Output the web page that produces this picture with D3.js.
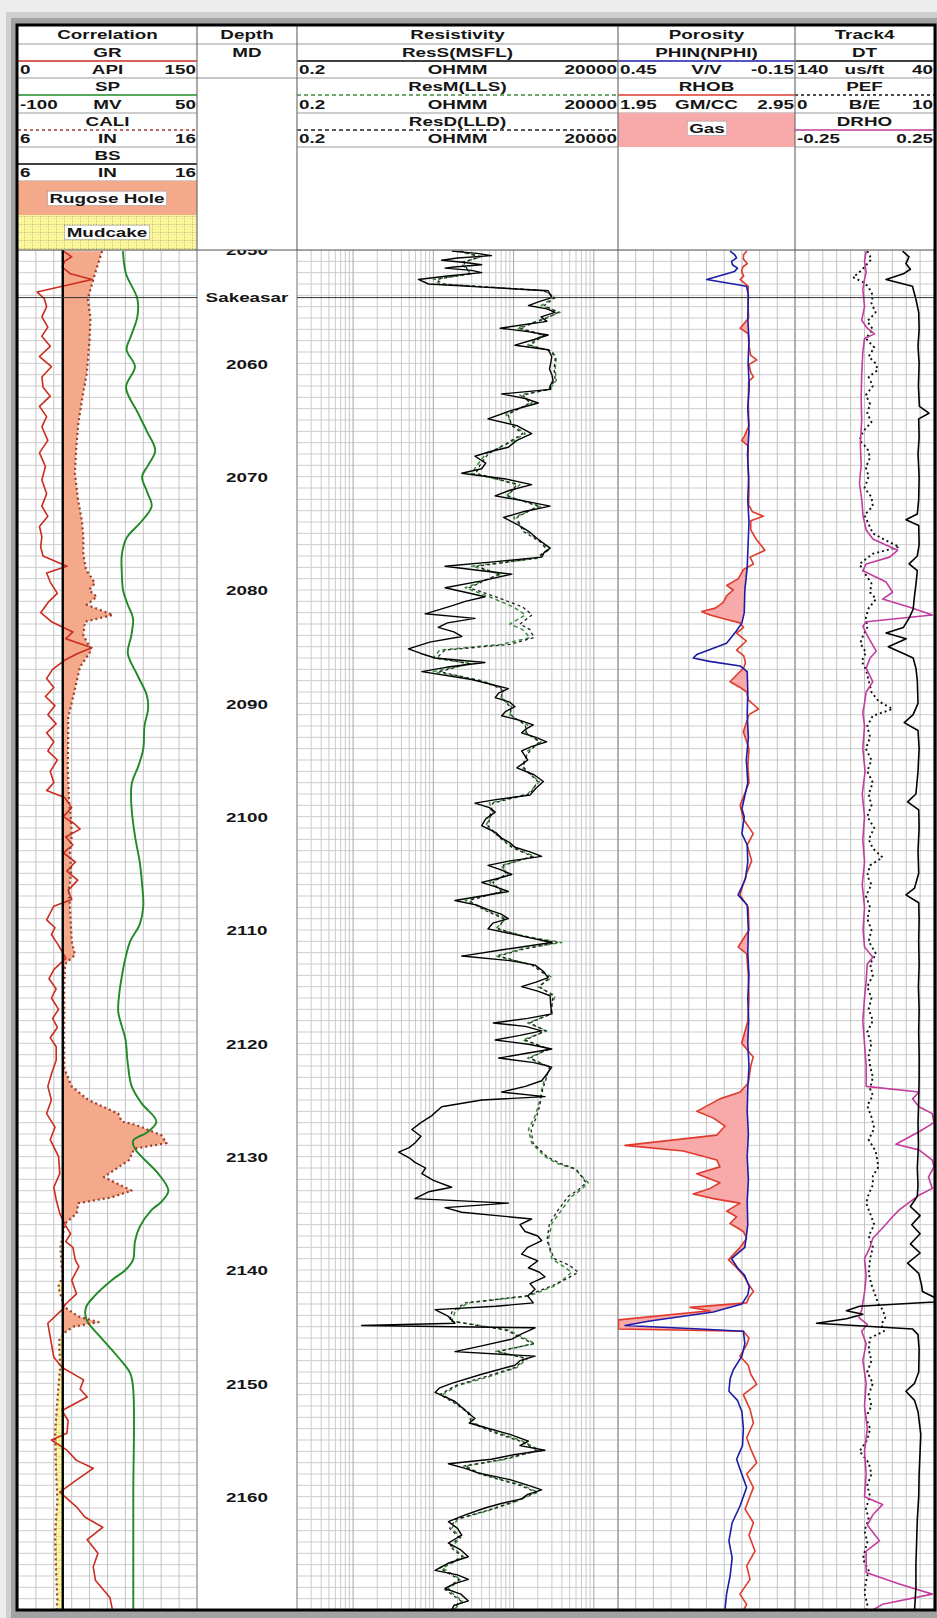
<!DOCTYPE html>
<html>
<head>
<meta charset="utf-8">
<title>Well log</title>
<script src="https://cdn.jsdelivr.net/npm/d3@7"></script>
<style>
  body { margin: 0; background: #ececec; }
  svg { display: block; }
  text { font-family: "Liberation Sans", Arial, sans-serif; font-weight: bold; font-size: 13px; fill: #151515; }
</style>
</head>
<body>
<script>
// ---------- données : [profondeur (m), valeur] ----------
const depthLabels = [2050, 2060, 2070, 2080, 2090, 2100, 2110, 2120, 2130, 2140, 2150, 2160];
const formationTops = [["Sakeasar", 2054.2]];
const bitSize = 8.5;

const trackTitles = ["Correlation", "Depth", "Resistivity", "Porosity", "Track4"];
const corrHeader = [["GR", "0", "API", "150"], ["SP", "-100", "MV", "50"], ["CALI", "6", "IN", "16"], ["BS", "6", "IN", "16"]];
const resHeader = [["ResS(MSFL)", "0.2", "OHMM", "20000"], ["ResM(LLS)", "0.2", "OHMM", "20000"], ["ResD(LLD)", "0.2", "OHMM", "20000"]];
const porHeader = [["PHIN(NPHI)", "0.45", "V/V", "-0.15"], ["RHOB", "1.95", "GM/CC", "2.95"]];
const t4Header = [["DT", "140", "us/ft", "40"], ["PEF", "0", "B/E", "10"], ["DRHO", "-0.25", "", "0.25"]];

const gr = [[2050.1,38],[2050.6,45],[2051.0,39],[2051.5,37],[2052.1,44],[2052.6,62],[2053.7,16],[2054.3,22],[2055.0,24],[2055.9,20],[2056.8,25],[2057.6,20],[2058.5,27],[2059.4,18],[2060.3,28],[2061.2,20],[2062.1,21],[2062.9,27],[2063.8,18],[2064.7,24],[2065.6,20],[2066.8,25],[2067.9,18],[2069.1,23],[2070.3,20],[2071.5,24],[2072.6,20],[2073.5,25],[2074.4,18],[2075.3,20],[2076.2,19],[2077.0,21],[2077.9,41],[2078.5,24],[2079.3,27],[2080.3,33],[2081.0,26],[2082.0,19],[2082.8,28],[2083.7,46],[2084.3,40],[2085.1,62],[2085.6,50],[2086.2,39],[2087.0,29],[2087.8,24],[2088.6,30],[2089.4,23],[2090.2,31],[2091.0,25],[2091.8,32],[2092.6,24],[2093.4,30],[2094.2,25],[2095.0,33],[2096.0,27],[2097.0,30],[2097.7,24],[2098.3,39],[2099.2,45],[2100.0,38],[2100.6,47],[2101.1,52],[2101.8,40],[2102.5,46],[2103.2,38],[2104.0,48],[2104.8,41],[2105.6,50],[2106.5,42],[2107.3,45],[2107.9,30],[2108.5,27],[2109.1,24],[2109.8,31],[2110.4,28],[2111.2,33],[2111.9,37],[2112.5,40],[2113.5,30],[2114.3,26],[2115.2,32],[2116.0,28],[2117.0,34],[2117.8,29],[2118.6,33],[2119.5,27],[2120.3,32],[2121.5,32],[2122.7,28],[2123.8,25],[2125.0,28],[2126.2,24],[2127.4,31],[2128.5,27],[2130.0,34],[2131.5,35],[2132.7,30],[2133.8,32],[2135.0,35],[2135.9,39],[2136.8,44],[2137.5,40],[2138.0,46],[2139.1,48],[2139.7,51],[2140.9,45],[2142.1,49],[2143.0,40],[2143.5,37],[2144.7,25],[2145.9,27],[2147.7,30],[2148.6,37],[2149.7,55],[2150.5,52],[2151.2,58],[2152.4,37],[2153.3,42],[2154.4,41],[2155.0,28],[2155.9,41],[2156.8,49],[2157.5,63],[2158.6,48],[2159.6,35],[2160.9,49],[2161.8,56],[2162.7,71],[2163.8,58],[2165.0,67],[2166.2,63],[2167.4,65],[2168.9,77],[2169.9,79]];

const sp = [[2050.1,-12],[2052.1,-9.5],[2054.3,0],[2055.9,0],[2057.5,-5],[2058.8,-9],[2060.3,-2],[2062.1,-9.5],[2064.4,0.6],[2066.0,8],[2067.7,15],[2069.0,9],[2070.0,4],[2071.3,8],[2072.6,12],[2074.0,3],[2075.4,-9],[2076.9,-13],[2078.5,-13],[2080.0,-12],[2081.3,-8],[2082.5,-3.6],[2084.0,-5],[2085.6,-8],[2087.5,0],[2089.3,8],[2090.5,9],[2092.0,6],[2094.0,5],[2095.5,1],[2097.1,-4.7],[2099.0,-5],[2101.7,-2],[2104.0,2],[2106.0,4],[2107.9,5],[2109.5,2],[2111.0,-6],[2112.5,-10],[2114.1,-13],[2115.5,-15],[2117.2,-16],[2118.5,-13],[2119.6,-10],[2121.8,-8],[2123.8,-4.7],[2125.3,3.6],[2126.9,16],[2127.8,9],[2128.6,-3.6],[2129.3,-2],[2130.0,3.6],[2131.5,17.5],[2133.0,26],[2134.0,20],[2134.7,12],[2136.2,2],[2137.5,-2],[2139.1,-3.6],[2140.0,-10],[2140.9,-21.5],[2142.2,-35],[2143.3,-43],[2144.4,-42.5],[2145.9,-31],[2147.7,-16],[2149.1,-6],[2150.6,-3.4],[2160.0,-3.4],[2170.0,-3.4]];

const cali = [[2050.1,10.7],[2052.1,10.3],[2054.3,9.9],[2056.0,10.05],[2057.9,10.0],[2060.9,9.84],[2063.0,9.6],[2065.3,9.37],[2067.5,9.25],[2069.7,9.18],[2072.0,9.35],[2073.8,9.56],[2075.3,9.65],[2076.9,9.65],[2078.2,9.8],[2079.4,10.3],[2080.0,9.97],[2080.6,10.4],[2081.3,9.84],[2082.2,11.3],[2082.8,9.74],[2084.0,9.65],[2085.3,10.1],[2086.8,9.46],[2089.3,9.1],[2091.2,8.81],[2093.5,8.8],[2095.5,8.78],[2098.6,8.85],[2100.0,8.95],[2101.7,9.0],[2103.0,8.9],[2104.8,8.97],[2106.5,8.85],[2107.9,8.9],[2109.5,8.95],[2111.0,9.0],[2112.2,9.18],[2113.0,8.63],[2115.0,8.58],[2117.2,8.59],[2119.5,8.57],[2122.1,8.59],[2122.4,8.63],[2123.8,9.0],[2125.0,9.93],[2126.2,11.6],[2126.9,11.8],[2127.2,12.6],[2128.1,14.0],[2128.8,14.3],[2129.3,12.5],[2130.3,12.2],[2131.8,10.8],[2133.0,12.35],[2133.6,11.2],[2134.1,9.37],[2135.0,9.28],[2135.9,8.63],[2136.5,8.55],[2138.0,8.37],[2139.7,8.44],[2140.5,8.5],[2141.5,8.25],[2143.0,8.53],[2143.3,8.63],[2144.1,9.37],[2144.6,10.5],[2145.0,9.1],[2145.5,8.63],[2146.2,8.3],[2148.6,8.35],[2151.5,8.2],[2154.4,8.07],[2157.4,8.12],[2160.3,8.2],[2163.3,8.07],[2166.2,8.12],[2169.1,8.2],[2170.0,8.15]];

const resS = [[2050.1,17],[2050.3,35],[2050.5,53],[2050.7,20],[2050.9,12.7],[2051.1,25],[2051.3,40],[2051.5,18],[2051.6,14],[2051.8,30],[2052.0,40],[2052.3,15],[2052.6,6.5],[2053.0,8.7],[2053.6,270],[2054.2,299],[2054.6,200],[2054.9,153],[2055.2,260],[2055.5,328],[2055.9,220],[2056.3,260],[2056.9,68],[2057.2,150],[2057.5,270],[2057.9,180],[2058.4,104],[2058.8,270],[2059.4,299],[2060.0,290],[2060.5,280],[2061.0,300],[2061.5,310],[2062.0,285],[2062.3,290],[2062.7,71],[2063.1,140],[2063.5,203],[2064.2,90],[2064.9,48],[2065.5,110],[2066.2,168],[2066.8,110],[2067.4,86],[2067.8,50],[2068.2,33],[2068.8,45],[2069.3,40],[2069.7,22.6],[2070.2,80],[2070.7,168],[2071.2,90],[2071.7,59],[2072.2,150],[2072.6,285],[2073.1,130],[2073.6,75],[2074.2,110],[2074.8,153],[2075.5,200],[2076.3,285],[2076.7,240],[2077.1,224],[2077.5,60],[2077.9,14],[2078.3,40],[2078.6,95],[2079.2,40],[2079.8,14],[2080.2,25],[2080.6,44],[2081.0,25],[2081.4,16.9],[2082.1,7.9],[2082.5,33],[2082.9,15],[2083.3,11.5],[2083.7,18],[2084.1,22.6],[2084.6,9],[2085.2,4.9],[2085.6,7],[2086.0,10.5],[2086.4,44],[2086.8,15],[2087.2,7.2],[2087.9,30],[2088.7,86],[2089.1,65],[2089.5,59],[2089.9,90],[2090.3,104],[2090.7,80],[2091.1,71],[2091.5,120],[2091.9,176],[2092.3,140],[2092.6,126],[2093.0,190],[2093.4,258],[2093.8,170],[2094.2,126],[2095.0,150],[2095.7,110],[2096.3,180],[2096.9,235],[2097.5,190],[2098.1,160],[2098.5,60],[2098.8,33],[2099.2,50],[2099.6,59],[2100.2,45],[2100.8,40],[2101.4,60],[2101.9,71],[2102.3,90],[2102.7,104],[2103.1,160],[2103.5,224],[2103.9,90],[2104.3,48],[2104.7,70],[2105.1,95],[2105.5,60],[2105.8,40],[2106.2,60],[2106.6,86],[2107.0,40],[2107.4,18.6],[2107.8,35],[2108.2,48],[2108.6,70],[2109.0,86],[2109.4,55],[2109.9,48],[2110.5,120],[2111.1,299],[2111.7,80],[2112.3,22.6],[2112.7,90],[2113.1,185],[2113.6,230],[2114.2,270],[2114.6,190],[2115.0,126],[2115.4,200],[2115.8,285],[2116.6,290],[2117.4,299],[2117.8,150],[2118.2,56],[2118.5,140],[2118.9,224],[2119.3,120],[2119.7,59],[2120.1,160],[2120.5,299],[2120.9,140],[2121.3,65],[2121.7,180],[2122.1,299],[2122.7,260],[2123.3,224],[2123.8,140],[2124.3,71],[2124.7,246],[2125.0,40],[2125.6,12.7],[2126.4,9.5],[2127.0,7],[2127.6,5.4],[2128.2,7],[2128.8,5.9],[2129.2,5],[2129.6,3.7],[2130.1,5],[2130.5,5.9],[2131.0,8],[2131.5,7.2],[2132.1,10],[2132.7,16.9],[2133.1,8.7],[2133.7,5.9],[2134.1,86],[2134.5,14],[2134.9,22.6],[2135.5,168],[2136.0,120],[2136.6,139],[2137.0,200],[2137.4,224],[2138.0,150],[2138.6,126],[2139.2,200],[2139.8,153],[2140.2,210],[2140.6,246],[2141.2,160],[2141.7,185],[2142.3,150],[2142.9,176],[2143.2,60],[2143.5,10.5],[2144.1,15.4],[2144.7,18.6],[2144.9,1.28],[2145.1,185],[2145.6,130],[2146.1,95],[2146.7,40],[2147.2,18.6],[2147.6,185],[2148.0,120],[2148.4,104],[2149.2,40],[2150.0,16.9],[2150.4,12],[2150.8,10.5],[2151.2,14],[2151.6,18.6],[2152.4,25],[2153.1,33],[2153.5,28],[2153.9,44],[2154.5,90],[2155.1,153],[2155.5,120],[2155.9,246],[2156.3,100],[2156.7,53],[2157.1,15.4],[2157.5,25],[2157.9,36],[2158.5,90],[2159.0,153],[2159.4,224],[2159.8,150],[2160.2,126],[2160.6,70],[2161.0,44],[2161.6,25],[2162.2,15.4],[2162.8,20],[2163.4,22.6],[2163.8,18],[2164.1,15.4],[2164.7,22],[2165.3,27.3],[2165.9,15],[2166.5,10.5],[2166.9,20],[2167.3,27.3],[2167.7,18],[2168.1,14],[2168.6,22],[2169.2,27.3],[2169.6,18],[2170.0,16.9]];

const resM = [[2050.1,20],[2050.6,40],[2051.1,22],[2051.6,25],[2052.1,30],[2052.6,10],[2053.0,12],[2053.6,250],[2054.2,320],[2054.9,220],[2055.5,380],[2056.0,250],[2056.9,110],[2057.5,230],[2058.4,150],[2058.9,300],[2059.5,340],[2060.5,330],[2061.5,340],[2062.3,280],[2062.8,120],[2063.5,170],[2064.5,80],[2065.5,100],[2066.2,140],[2067.0,90],[2068.0,45],[2069.0,35],[2069.7,30],[2070.7,120],[2071.7,80],[2072.6,220],[2073.6,100],[2074.8,140],[2075.8,230],[2076.5,270],[2077.2,200],[2077.9,30],[2078.6,70],[2079.8,25],[2080.6,50],[2081.5,100],[2082.2,140],[2083.0,90],[2083.5,130],[2084.2,160],[2084.8,70],[2085.3,12],[2086.0,10],[2086.5,30],[2087.2,10],[2088.0,40],[2088.7,75],[2089.5,70],[2090.3,95],[2091.1,90],[2091.9,150],[2092.6,140],[2093.4,220],[2094.2,150],[2095.0,140],[2095.7,130],[2096.9,210],[2098.0,150],[2098.8,50],[2099.6,55],[2100.8,45],[2101.9,70],[2102.7,100],[2103.5,180],[2104.3,70],[2105.1,85],[2105.8,50],[2106.6,75],[2107.4,25],[2108.2,45],[2109.0,80],[2109.9,60],[2110.6,150],[2111.1,397],[2111.7,120],[2112.3,60],[2113.1,180],[2114.2,300],[2115.0,200],[2115.8,330],[2116.6,300],[2117.4,300],[2118.2,150],[2118.9,260],[2119.7,130],[2120.5,280],[2121.3,150],[2122.1,290],[2123.3,240],[2124.1,224],[2125.6,203],[2126.6,180],[2127.6,153],[2128.8,168],[2130.0,246],[2130.6,350],[2131.1,582],[2132.3,853],[2132.9,700],[2133.5,530],[2134.7,397],[2135.9,299],[2137.4,270],[2139.0,299],[2139.6,400],[2140.2,530],[2140.8,420],[2141.4,328],[2142.3,153],[2142.9,27],[2143.7,18.6],[2144.5,17],[2145.3,86],[2146.5,185],[2147.2,60],[2147.8,150],[2148.6,110],[2149.4,50],[2150.2,20],[2151.0,13],[2151.8,20],[2152.6,28],[2153.5,32],[2154.3,60],[2155.1,130],[2155.9,210],[2156.7,80],[2157.3,25],[2158.0,40],[2159.0,130],[2159.6,200],[2160.4,110],[2161.2,50],[2162.0,20],[2162.8,17],[2163.6,22],[2164.4,17],[2165.3,24],[2166.3,13],[2167.3,22],[2168.2,15],[2169.2,23],[2170.0,18]];

const resD = [[2050.1,22],[2050.6,38],[2051.1,24],[2051.6,26],[2052.1,28],[2052.6,11],[2053.0,13],[2053.6,240],[2054.2,330],[2054.9,240],[2055.5,360],[2056.0,260],[2056.9,120],[2057.5,240],[2058.4,160],[2058.9,290],[2059.5,330],[2060.5,320],[2061.5,330],[2062.3,270],[2062.8,130],[2063.5,160],[2064.5,85],[2065.5,95],[2066.2,130],[2067.0,85],[2068.0,48],[2069.0,38],[2069.7,34],[2070.7,110],[2071.7,85],[2072.6,200],[2073.6,110],[2074.8,130],[2075.8,220],[2076.5,260],[2077.2,190],[2077.9,35],[2078.6,65],[2079.8,28],[2080.6,60],[2081.5,130],[2082.2,170],[2083.0,120],[2083.5,160],[2084.2,180],[2084.8,90],[2085.3,14],[2086.0,11],[2086.5,28],[2087.2,12],[2088.0,38],[2088.7,70],[2089.5,72],[2090.3,90],[2091.1,95],[2091.9,140],[2092.6,145],[2093.4,210],[2094.2,160],[2095.0,135],[2095.7,135],[2096.9,200],[2098.0,160],[2098.8,55],[2099.6,52],[2100.8,48],[2101.9,68],[2102.7,95],[2103.5,170],[2104.3,75],[2105.1,80],[2105.8,55],[2106.6,70],[2107.4,28],[2108.2,42],[2109.0,75],[2109.9,65],[2110.6,140],[2111.1,350],[2111.7,130],[2112.3,65],[2113.1,170],[2114.2,280],[2115.0,210],[2115.8,310],[2116.6,300],[2117.4,290],[2118.2,160],[2118.9,250],[2119.7,140],[2120.5,270],[2121.3,160],[2122.1,280],[2123.3,250],[2124.1,230],[2125.6,210],[2126.6,190],[2127.6,165],[2128.8,175],[2130.0,260],[2130.6,380],[2131.1,600],[2132.3,800],[2132.9,650],[2133.5,480],[2134.7,360],[2135.9,280],[2137.4,260],[2139.0,320],[2139.6,500],[2140.2,640],[2140.8,450],[2141.4,300],[2142.3,140],[2142.9,25],[2143.7,17],[2144.5,16],[2145.3,80],[2146.5,175],[2147.2,65],[2147.8,140],[2148.6,105],[2149.4,45],[2150.2,19],[2151.0,12],[2151.8,19],[2152.6,27],[2153.5,30],[2154.3,55],[2155.1,120],[2155.9,200],[2156.7,75],[2157.3,24],[2158.0,38],[2159.0,120],[2159.6,190],[2160.4,105],[2161.2,48],[2162.0,19],[2162.8,16],[2163.6,21],[2164.4,16],[2165.3,23],[2166.3,12],[2167.3,21],[2168.2,14],[2169.2,22],[2170.0,17]];

const nphi = [[2050.1,0.070],[2050.4,0.055],[2050.7,0.048],[2051.0,0.065],[2051.3,0.062],[2051.6,0.045],[2051.9,0.055],[2052.6,0.149],[2053.2,0.014],[2054.0,0.008],[2056.0,0.010],[2058.0,0.006],[2060.0,0.009],[2062.0,0.005],[2064.0,0.010],[2066.0,0.006],[2068.0,0.011],[2070.0,0.007],[2072.0,0.010],[2074.0,0.006],[2076.0,0.009],[2078.0,0.012],[2080.0,0.020],[2082.0,0.022],[2082.9,0.030],[2083.6,0.048],[2084.7,0.082],[2085.7,0.183],[2086.0,0.195],[2086.3,0.140],[2086.7,0.036],[2087.2,0.012],[2089.0,0.010],[2091.0,0.012],[2093.0,0.008],[2095.0,0.015],[2097.0,0.010],[2099.3,0.030],[2100.0,0.022],[2101.5,0.030],[2102.5,0.012],[2104.0,0.010],[2105.5,0.018],[2106.9,0.043],[2107.8,0.012],[2110.0,0.008],[2112.0,0.010],[2114.0,0.006],[2116.0,0.010],[2118.0,0.007],[2120.0,0.010],[2122.0,0.006],[2124.0,0.010],[2126.0,0.012],[2128.0,0.008],[2130.0,0.012],[2132.0,0.008],[2134.0,0.012],[2136.0,0.010],[2138.0,0.020],[2139.0,0.065],[2139.8,0.045],[2140.5,0.020],[2141.5,0.005],[2142.2,0.010],[2143.0,0.030],[2143.7,0.127],[2144.5,0.342],[2144.9,0.426],[2145.2,0.172],[2145.4,0.025],[2146.5,0.020],[2147.6,0.030],[2148.8,0.059],[2149.6,0.070],[2150.7,0.074],[2151.5,0.045],[2152.5,0.030],[2154.0,0.025],[2155.5,0.028],[2156.7,0.048],[2157.6,0.036],[2159.2,0.014],[2160.8,0.036],[2162.3,0.063],[2163.9,0.074],[2165.4,0.063],[2167.0,0.070],[2168.6,0.082],[2169.9,0.087]];

const rhob = [[2050.1,2.677],[2050.4,2.66],[2050.8,2.658],[2051.2,2.68],[2051.5,2.655],[2051.9,2.649],[2052.3,2.66],[2052.6,2.640],[2053.2,2.686],[2054.5,2.684],[2056.0,2.688],[2056.9,2.640],[2057.4,2.686],[2058.5,2.690],[2059.3,2.700],[2059.7,2.734],[2060.1,2.690],[2060.8,2.700],[2061.2,2.715],[2061.6,2.688],[2063.5,2.686],[2065.5,2.690],[2066.4,2.665],[2066.8,2.649],[2067.3,2.686],[2069.0,2.684],[2071.0,2.690],[2072.5,2.688],[2073.1,2.71],[2073.5,2.771],[2073.9,2.700],[2074.7,2.70],[2075.5,2.73],[2076.5,2.78],[2077.1,2.696],[2077.7,2.715],[2078.2,2.658],[2079.0,2.630],[2079.6,2.564],[2080.0,2.601],[2080.5,2.564],[2081.1,2.545],[2081.6,2.50],[2081.9,2.423],[2082.2,2.470],[2082.6,2.564],[2082.9,2.639],[2083.3,2.660],[2083.8,2.62],[2084.5,2.675],[2085.3,2.620],[2085.8,2.660],[2086.4,2.670],[2086.9,2.66],[2087.5,2.620],[2088.1,2.583],[2088.6,2.640],[2089.0,2.677],[2089.7,2.686],[2090.5,2.744],[2091.0,2.690],[2092.5,2.658],[2094.0,2.690],[2095.5,2.684],[2097.0,2.690],[2099.0,2.640],[2100.2,2.658],[2101.5,2.714],[2102.5,2.680],[2103.9,2.705],[2105.0,2.677],[2106.9,2.639],[2108.0,2.686],[2110.0,2.690],[2111.5,2.629],[2112.1,2.677],[2114.0,2.686],[2116.0,2.690],[2118.0,2.684],[2120.0,2.649],[2121.2,2.714],[2122.0,2.70],[2123.5,2.686],[2124.3,2.640],[2124.9,2.526],[2126.0,2.395],[2126.6,2.489],[2127.3,2.555],[2128.1,2.508],[2129.0,1.990],[2129.5,2.319],[2130.3,2.508],[2130.9,2.526],[2131.5,2.395],[2132.3,2.526],[2132.8,2.470],[2133.3,2.375],[2133.7,2.489],[2134.1,2.639],[2134.8,2.564],[2135.3,2.620],[2135.9,2.583],[2136.6,2.658],[2137.2,2.677],[2138.0,2.640],[2139.1,2.574],[2139.8,2.620],[2140.5,2.660],[2141.2,2.686],[2141.9,2.715],[2142.4,2.690],[2142.9,2.677],[2143.3,2.357],[2143.6,2.470],[2144.4,1.952],[2145.2,1.952],[2145.4,2.658],[2146.0,2.690],[2146.6,2.677],[2147.6,2.639],[2148.4,2.686],[2149.2,2.700],[2150.1,2.734],[2151.0,2.658],[2152.3,2.696],[2153.5,2.715],[2154.8,2.677],[2155.8,2.700],[2157.0,2.734],[2158.0,2.677],[2159.2,2.715],[2160.2,2.690],[2161.1,2.668],[2162.3,2.715],[2163.4,2.690],[2164.8,2.724],[2166.1,2.677],[2167.3,2.696],[2168.6,2.639],[2169.5,2.677],[2170.0,2.660]];

const dt = [[2050.1,62.6],[2050.6,58],[2051.2,60.2],[2051.7,57],[2052.1,62],[2052.6,74.5],[2053.2,55.5],[2054.3,53.1],[2055.5,51],[2057.0,50.7],[2058.5,51.5],[2060.0,50.7],[2062.0,51.2],[2063.8,50.5],[2064.4,43.6],[2064.9,51],[2066.5,50.7],[2068.0,51.5],[2070.0,50.7],[2072.0,51],[2073.3,52],[2073.8,60.2],[2074.3,51],[2076.0,50.7],[2077.0,52],[2077.7,57.9],[2078.3,52],[2079.5,53],[2080.5,54],[2081.7,55],[2082.5,58],[2083.3,62],[2083.8,74.5],[2084.3,60],[2085.0,72.9],[2085.6,62],[2086.0,55],[2086.9,53],[2088.0,52],[2090.0,51.5],[2091.0,55],[2091.7,61.4],[2092.4,51.5],[2094.0,50.7],[2096.0,51.5],[2098.0,53],[2098.7,59],[2099.4,51],[2101.0,50.7],[2103.0,51.5],[2105.0,51],[2106.3,54],[2106.9,60.2],[2107.6,51],[2109.0,50.7],[2111.0,51],[2113.0,50.7],[2115.0,51.2],[2117.0,50.7],[2119.0,51],[2121.0,50.7],[2123.0,50.7],[2125.0,51],[2127.0,51.5],[2129.0,51.2],[2131.0,52],[2132.5,51.5],[2133.5,52],[2134.4,57],[2135.2,50],[2136.0,56],[2136.8,50],[2137.7,57],[2138.5,50],[2139.4,59],[2140.3,51],[2141.3,49],[2141.9,48.3],[2142.4,40],[2142.8,36],[2143.2,93.6],[2143.6,103],[2143.9,91.2],[2144.3,103],[2144.7,124.5],[2145.2,55.5],[2145.7,51.5],[2147.0,50.7],[2149.0,51],[2150.0,54],[2150.7,60.2],[2151.5,54],[2152.5,51.5],[2154.5,49.5],[2156.0,50],[2158.0,50.7],[2160.0,51],[2162.0,52],[2164.0,52.5],[2166.0,53],[2168.0,53],[2170.0,54]];

const pef = [[2050.1,5.2],[2050.8,5.5],[2051.5,5.0],[2052.0,4.6],[2052.4,4.17],[2052.9,5.0],[2053.3,5.3],[2054.0,5.6],[2054.7,5.5],[2055.5,5.8],[2056.3,5.2],[2057.0,5.6],[2057.8,5.1],[2058.6,5.7],[2059.4,5.3],[2060.0,5.8],[2060.6,5.95],[2061.2,5.3],[2062.0,5.6],[2062.8,5.1],[2063.6,5.4],[2064.4,5.2],[2065.2,5.5],[2066.0,4.9],[2066.8,4.64],[2067.5,5.2],[2068.3,5.4],[2069.2,5.1],[2070.0,5.3],[2071.0,5.0],[2071.8,5.5],[2072.6,5.6],[2073.4,5.0],[2074.2,5.3],[2075.0,5.6],[2075.6,6.5],[2076.2,7.5],[2076.8,5.6],[2077.7,4.64],[2078.5,5.0],[2079.4,5.5],[2080.2,5.4],[2080.8,5.83],[2081.6,5.3],[2082.4,5.1],[2083.3,5.2],[2084.0,4.9],[2084.7,4.7],[2085.5,5.1],[2086.3,4.8],[2087.0,5.1],[2088.0,5.3],[2089.0,5.5],[2089.8,6.0],[2090.5,7.02],[2091.1,5.6],[2092.0,5.2],[2093.0,5.4],[2094.0,5.1],[2095.0,5.5],[2096.0,5.2],[2097.0,5.6],[2098.0,5.3],[2099.0,5.5],[2100.0,5.2],[2101.0,5.7],[2102.0,5.3],[2102.8,5.6],[2103.6,6.3],[2104.3,5.4],[2105.2,5.2],[2106.0,5.5],[2107.0,5.1],[2108.0,5.4],[2109.0,5.2],[2110.0,5.5],[2111.0,5.3],[2112.1,5.83],[2113.0,5.4],[2114.0,5.6],[2115.0,5.2],[2116.0,5.5],[2117.0,5.3],[2118.0,5.6],[2119.0,5.2],[2120.0,5.5],[2121.0,5.3],[2122.0,5.4],[2123.0,5.6],[2124.0,5.4],[2124.6,5.6],[2125.5,5.2],[2126.5,5.5],[2127.5,5.7],[2128.5,5.3],[2129.5,5.8],[2130.9,6.0],[2131.7,5.6],[2132.5,5.6],[2133.3,5.3],[2134.1,5.12],[2135.0,5.4],[2136.0,5.7],[2137.0,5.3],[2138.0,5.6],[2139.0,5.4],[2140.3,5.3],[2141.3,5.5],[2142.3,5.8],[2143.0,6.0],[2143.5,6.3],[2144.2,6.5],[2144.8,6.2],[2145.4,6.4],[2146.0,5.4],[2147.0,5.3],[2148.0,5.5],[2149.0,5.2],[2150.0,5.6],[2151.0,5.3],[2152.0,5.5],[2153.0,5.1],[2154.0,5.4],[2155.0,5.2],[2156.0,4.64],[2157.0,5.3],[2158.0,5.5],[2159.0,5.2],[2160.0,5.4],[2161.0,5.1],[2162.0,5.3],[2163.0,5.0],[2164.0,5.2],[2165.5,4.88],[2166.5,5.3],[2167.5,5.1],[2168.5,5.0],[2169.5,5.2],[2170.0,5.1]];

const drho = [[2050.1,0.006],[2051.0,0.0],[2052.0,0.006],[2052.6,0.0],[2053.5,-0.006],[2055.0,0.0],[2056.2,-0.01],[2056.9,0.01],[2057.4,0.036],[2057.8,0.0],[2059.0,-0.006],[2061.0,-0.01],[2063.0,-0.012],[2065.0,-0.01],[2067.0,-0.015],[2069.0,-0.012],[2070.6,-0.018],[2072.0,-0.01],[2073.5,-0.005],[2074.7,0.006],[2075.5,0.03],[2076.5,0.119],[2077.1,0.09],[2077.7,0.006],[2078.3,-0.006],[2079.3,0.078],[2080.2,0.101],[2080.8,0.065],[2081.5,0.16],[2082.2,0.244],[2082.8,0.006],[2083.2,-0.006],[2084.0,0.01],[2085.4,0.042],[2086.0,0.02],[2086.9,0.006],[2088.1,0.03],[2089.0,0.006],[2090.0,0.0],[2090.8,-0.006],[2092.0,0.0],[2094.0,-0.006],[2096.0,0.002],[2098.0,-0.008],[2100.0,0.0],[2102.0,-0.006],[2104.0,0.0],[2106.0,-0.008],[2108.0,0.0],[2110.0,-0.005],[2111.5,0.0],[2112.4,0.03],[2113.0,0.01],[2114.5,0.006],[2116.0,0.0],[2118.0,-0.006],[2120.0,0.0],[2122.0,0.006],[2123.8,0.006],[2124.3,0.196],[2124.9,0.173],[2125.6,0.196],[2126.2,0.244],[2127.0,0.25],[2127.8,0.196],[2128.9,0.113],[2129.4,0.196],[2130.3,0.244],[2130.9,0.25],[2131.8,0.23],[2132.8,0.244],[2133.4,0.196],[2134.7,0.125],[2135.3,0.101],[2136.3,0.065],[2137.2,0.03],[2138.1,0.018],[2139.0,0.0],[2140.5,0.006],[2142.0,0.0],[2143.5,-0.01],[2144.2,-0.02],[2144.8,0.01],[2145.4,-0.01],[2146.5,0.006],[2148.0,-0.006],[2150.0,0.006],[2152.0,0.0],[2154.0,0.01],[2156.0,0.0],[2158.0,0.006],[2160.0,0.0],[2160.7,0.065],[2161.6,0.03],[2162.5,0.01],[2163.9,0.054],[2164.8,0.006],[2166.7,0.006],[2167.7,0.125],[2168.6,0.244],[2169.5,0.065],[2170.0,0.03]];


// ---------- mise en page ----------
const W = 937, H = 1618;
const yTop = 250, yBot = 1610;
const T = { corr: [18, 197], depth: [197, 297], res: [297, 618], por: [618, 795], t4: [795, 934] };

const svg = d3.select("body").append("svg").attr("width", W).attr("height", H);
const defs = svg.append("defs");

// cadre + ombre
svg.append("rect").attr("width", W).attr("height", H).attr("fill", "#ededed");
svg.append("rect").attr("x", 6).attr("y", 12).attr("width", W - 6).attr("height", H - 12).attr("fill", "#cfcfcf");
svg.append("rect").attr("x", 11).attr("y", 18).attr("width", W - 11).attr("height", H - 18).attr("fill", "#a2a2a2");
svg.append("rect").attr("x", 17).attr("y", 25).attr("width", 918).attr("height", 1585).attr("fill", "#fff");

// échelles
const y = d3.scaleLinear().domain([2050, 2170]).range([yTop, yBot]);
const xGR = d3.scaleLinear().domain([0, 150]).range(T.corr);
const xSP = d3.scaleLinear().domain([-100, 50]).range(T.corr);
const xCal = d3.scaleLinear().domain([6, 16]).range(T.corr);
const xRes = d3.scaleLog().domain([0.2, 2000]).range(T.res);
const xNphi = d3.scaleLinear().domain([0.45, -0.15]).range(T.por);
const xRhob = d3.scaleLinear().domain([1.95, 2.95]).range(T.por);
const xDT = d3.scaleLinear().domain([140, 40]).range(T.t4);
const xPEF = d3.scaleLinear().domain([0, 10]).range(T.t4);
const xDrho = d3.scaleLinear().domain([-0.25, 0.25]).range(T.t4);

const rugoseColor = "#f4a98a", gasColor = "#f8a9a9";

// motif "mudcake"
const pat = defs.append("pattern").attr("id", "mudcake").attr("patternUnits", "userSpaceOnUse")
  .attr("width", 8).attr("height", 8);
pat.append("rect").attr("width", 8).attr("height", 8).attr("fill", "#fbf59c");
pat.append("path").attr("d", "M0 0.5H8M0.5 0V8").attr("stroke", "#a8a27a").attr("stroke-width", 0.8)
  .attr("stroke-dasharray", "1,1.6");

function clipRect(id, x0, x1) {
  defs.append("clipPath").attr("id", id).append("rect")
    .attr("x", x0).attr("y", yTop).attr("width", x1 - x0).attr("height", yBot - yTop);
}
clipRect("clip-corr", T.corr[0], T.corr[1]);
clipRect("clip-res", T.res[0], T.res[1]);
clipRect("clip-por", T.por[0], T.por[1]);
clipRect("clip-t4", T.t4[0], T.t4[1]);
clipRect("clip-rugose", xCal(bitSize), T.corr[1]);
clipRect("clip-mud", T.corr[0], xCal(bitSize));

// grilles
const depthTicks = y.ticks(120);
function hGrid(g, x0, x1) {
  g.append("g").selectAll("line").data(depthTicks).join("line")
    .attr("x1", x0).attr("x2", x1)
    .attr("y1", d => y(d)).attr("y2", d => y(d))
    .attr("stroke", "#cdcdcd").attr("stroke-width", 1);
}
function vGrid(g, xs, vals, col) {
  g.append("g").selectAll("line").data(vals).join("line")
    .attr("x1", d => xs(d)).attr("x2", d => xs(d))
    .attr("y1", yTop).attr("y2", yBot)
    .attr("stroke", col).attr("stroke-width", 1);
}
const div10 = (t) => d3.scaleLinear().domain([0, 10]).range(t);

const plot = svg.append("g");
[T.corr, T.res, T.por, T.t4].forEach(t => hGrid(plot, t[0], t[1]));
[T.corr, T.por, T.t4].forEach(t => { const s = div10(t); vGrid(plot, s, s.ticks(10), "#c4c4c4"); });
const resTicks = xRes.ticks();
vGrid(plot, xRes, resTicks.filter(v => Math.abs(Math.log10(v) % 1) > 1e-6), "#cacaca");
vGrid(plot, xRes, resTicks.filter(v => Math.abs(Math.log10(v) % 1) < 1e-6), "#a8a8a8");

// séparateurs de pistes
[T.corr[1], T.depth[1], T.res[1], T.por[1]].forEach(x => {
  plot.append("line").attr("x1", x).attr("x2", x).attr("y1", yTop).attr("y2", yBot)
    .attr("stroke", "#8c8c8c").attr("stroke-width", 1);
});

const lineOf = (xs, curve) => d3.line().x(d => xs(d[1])).y(d => y(d[0])).curve(curve || d3.curveLinear);
function curve(g, data, xs, color, width, dash, c) {
  return g.append("path").datum(data).attr("d", lineOf(xs, c))
    .attr("fill", "none").attr("stroke", color).attr("stroke-width", width)
    .attr("stroke-dasharray", dash || null).attr("stroke-linejoin", "round");
}

// --- piste corrélation ---
const gCorr = plot.append("g").attr("clip-path", "url(#clip-corr)");
const caliArea = d3.area().y(d => y(d[0])).x0(xCal(bitSize)).x1(d => xCal(d[1]));
gCorr.append("g").attr("clip-path", "url(#clip-rugose)")
  .append("path").datum(cali).attr("d", caliArea).attr("fill", rugoseColor);
gCorr.append("g").attr("clip-path", "url(#clip-mud)")
  .append("path").datum(cali).attr("d", caliArea).attr("fill", "url(#mudcake)");
curve(gCorr, gr, xGR, "#cc2b1f", 1.6);
curve(gCorr, sp, xSP, "#1f8a26", 1.9, null, d3.curveCatmullRom);
curve(gCorr, cali, xCal, "#9c3b2a", 2.2, "2,3");
gCorr.append("line").attr("x1", xCal(bitSize)).attr("x2", xCal(bitSize))
  .attr("y1", yTop).attr("y2", yBot).attr("stroke", "#000").attr("stroke-width", 2.4);

// --- piste résistivité ---
const gRes = plot.append("g").attr("clip-path", "url(#clip-res)");
curve(gRes, resM, xRes, "#3d8c3d", 1.5, "4,3");
curve(gRes, resD, xRes, "#222", 1.3, "3,3");
curve(gRes, resS, xRes, "#000", 1.4);

// --- piste porosité ---
const gPor = plot.append("g").attr("clip-path", "url(#clip-por)");
defs.append("clipPath").attr("id", "clip-gas").append("path")
  .datum(rhob).attr("d", d3.area().y(d => y(d[0])).x0(d => xRhob(d[1])).x1(T.por[1]));
gPor.append("g").attr("clip-path", "url(#clip-gas)")
  .append("path").datum(nphi)
  .attr("d", d3.area().y(d => y(d[0])).x0(T.por[0]).x1(d => xNphi(d[1])))
  .attr("fill", gasColor);
curve(gPor, rhob, xRhob, "#e03a2c", 1.6);
curve(gPor, nphi, xNphi, "#1c1ca8", 1.6);

// --- piste 4 ---
const gT4 = plot.append("g").attr("clip-path", "url(#clip-t4)");
curve(gT4, pef, xPEF, "#111", 1.9, "2,3");
curve(gT4, drho, xDrho, "#c23c9d", 1.6);
curve(gT4, dt, xDT, "#000", 1.6);

// --- profondeurs ---
const depthAxis = d3.axisRight(y).tickValues(depthLabels).tickSize(0).tickFormat(d3.format("d"));
const ag = plot.append("g").attr("transform", `translate(${(T.depth[0] + T.depth[1]) / 2},0)`).call(depthAxis);
ag.select(".domain").remove();
ag.selectAll("text").attr("x", 0).attr("dy", "0.36em").attr("text-anchor", "middle")
  .attr("transform", "scale(1.45,1)").attr("fill", "#151515")
  .style("font-family", '"Liberation Sans", Arial, sans-serif').style("font-weight", "bold").style("font-size", "13px");

// --- toits de formation ---
formationTops.forEach(([name, d]) => {
  [[T.corr[0], T.corr[1]], [T.depth[1], T.t4[1]]].forEach(([a, b]) => {
    plot.append("line").attr("x1", a).attr("x2", b).attr("y1", y(d)).attr("y2", y(d))
      .attr("stroke", "#333").attr("stroke-width", 1);
  });
  label(plot, name, (T.depth[0] + T.depth[1]) / 2, y(d));
});

// ---------- en-tête ----------
function label(g, s, x, yy, anchor) {
  return g.append("text")
    .attr("transform", `translate(${x},${yy}) scale(1.45,1)`)
    .attr("text-anchor", anchor || "middle")
    .attr("dy", "0.36em")
    .text(s);
}
function boxedLabel(g, s, x, yy) {
  const t = label(g, s, x, yy);
  const b = t.node().getBoundingClientRect();
  g.insert("rect", () => t.node())
    .attr("x", b.x - 2).attr("y", b.y).attr("width", b.width + 4).attr("height", b.height)
    .attr("fill", "#fff").attr("stroke", "#777").attr("stroke-width", 0.4);
}

const head = svg.append("g");
head.append("rect").attr("x", 18).attr("y", 25).attr("width", 916).attr("height", yTop - 25).attr("fill", "#fff");

const nameRows = [[44, 61], [78, 95], [113, 130], [147, 164]];
const scaleRows = [[61, 78], [95, 113], [130, 147], [164, 181]];
const mid = (r) => (r[0] + r[1]) / 2;

function hline(g, x0, x1, yy, color, w, dash) {
  g.append("line").attr("x1", x0).attr("x2", x1).attr("y1", yy).attr("y2", yy)
    .attr("stroke", color).attr("stroke-width", w).attr("stroke-dasharray", dash || null);
}
function headerCurves(rows, t, styles) {
  rows.forEach((r, i) => {
    const cx = (t[0] + t[1]) / 2;
    label(head, r[0], cx, mid(nameRows[i]));
    hline(head, t[0], t[1], nameRows[i][1], styles[i][0], 1.6, styles[i][1]);
    label(head, r[1], t[0] + 2, mid(scaleRows[i]), "start");
    label(head, r[2], cx, mid(scaleRows[i]));
    label(head, r[3], t[1] - 1, mid(scaleRows[i]), "end");
    hline(head, t[0], t[1], scaleRows[i][1], "#9a9a9a", 1);
  });
}

// titres
const tList = [T.corr, T.depth, T.res, T.por, T.t4];
trackTitles.forEach((s, i) => label(head, s, (tList[i][0] + tList[i][1]) / 2, 34.5));
hline(head, 18, 934, 44, "#9a9a9a", 1);

headerCurves(corrHeader, T.corr, [["#cc2b1f"], ["#1f8a26"], ["#9c3b2a", "3,3"], ["#000"]]);
headerCurves(resHeader, T.res, [["#000"], ["#3d8c3d", "4,3"], ["#222", "4,3"]]);
headerCurves(porHeader, T.por, [["#1c1ca8"], ["#e03a2c"]]);
headerCurves(t4Header, T.t4, [["#000"], ["#111", "3,3"], ["#c23c9d"]]);

label(head, "MD", (T.depth[0] + T.depth[1]) / 2, mid(nameRows[0]));
hline(head, T.depth[0], T.depth[1], 78, "#8a8a8a", 1);

// cases de légende
head.append("rect").attr("x", T.corr[0]).attr("y", 181).attr("width", T.corr[1] - T.corr[0]).attr("height", 34).attr("fill", rugoseColor);
head.append("rect").attr("x", T.corr[0]).attr("y", 215).attr("width", T.corr[1] - T.corr[0]).attr("height", 35).attr("fill", "url(#mudcake)");
boxedLabel(head, "Rugose Hole", 107, 198.5);
boxedLabel(head, "Mudcake", 107, 232.5);
head.append("rect").attr("x", T.por[0]).attr("y", 113).attr("width", T.por[1] - T.por[0]).attr("height", 34).attr("fill", gasColor);
boxedLabel(head, "Gas", 707, 128.5);

// séparateurs d'en-tête
[T.corr[1], T.depth[1], T.res[1], T.por[1]].forEach(x => {
  head.append("line").attr("x1", x).attr("x2", x).attr("y1", 25).attr("y2", yTop)
    .attr("stroke", "#707070").attr("stroke-width", 1.2);
});
hline(head, 18, 934, yTop, "#555", 1.2);

// bordure
svg.append("rect").attr("x", 17).attr("y", 25).attr("width", 918).attr("height", 1585)
  .attr("fill", "none").attr("stroke", "#000").attr("stroke-width", 3);
</script>
</body>
</html>
